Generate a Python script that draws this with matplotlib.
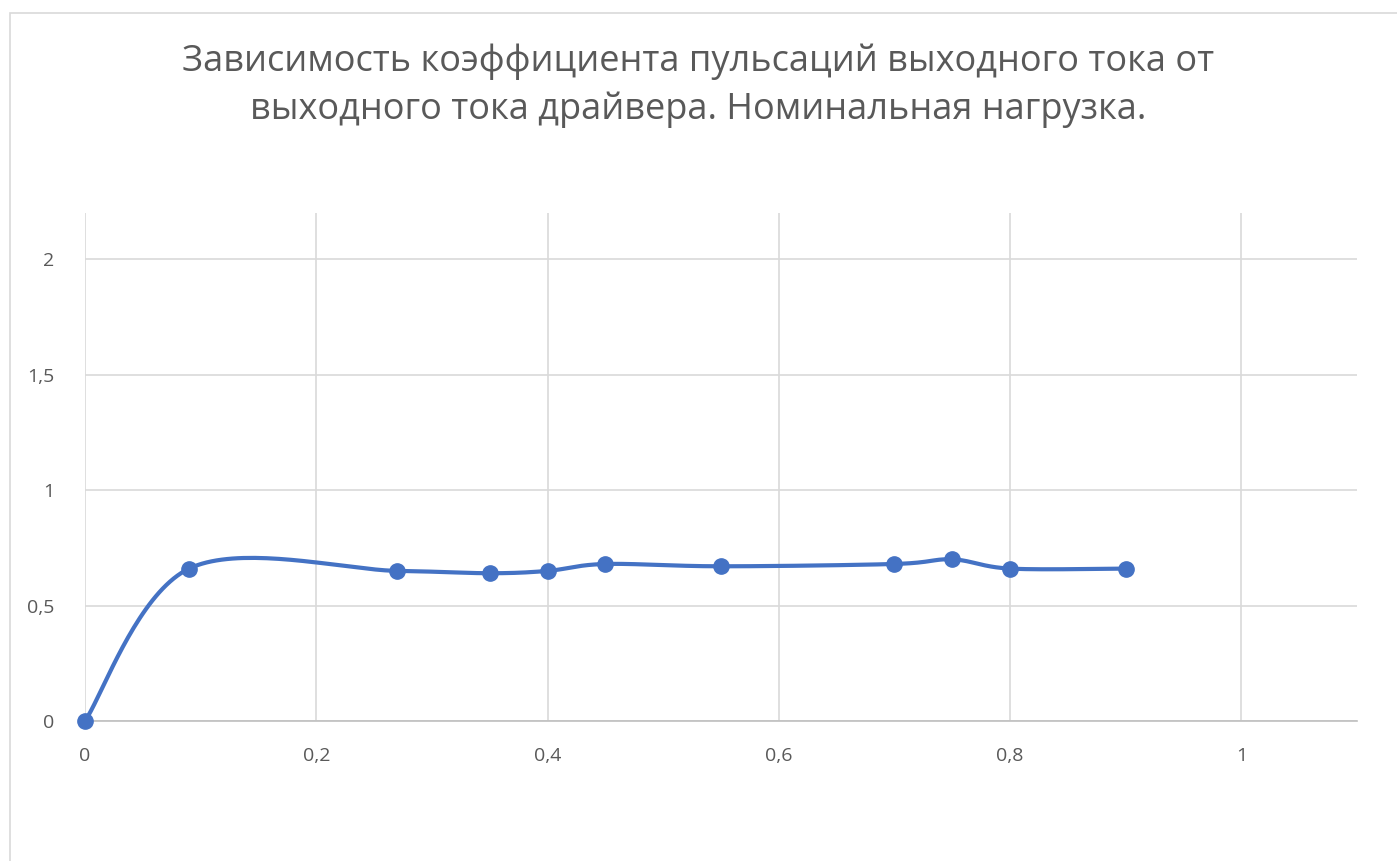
import numpy as np
import matplotlib.pyplot as plt
from matplotlib.patches import Rectangle

# output current of the driver, A
current = [0, 0.09, 0.27, 0.35, 0.40, 0.45, 0.55, 0.70, 0.75, 0.80, 0.90]
# ripple factor
ripple = [0, 0.66, 0.65, 0.64, 0.65, 0.68, 0.67, 0.68, 0.70, 0.66, 0.66]

title = "Зависимость коэффициента пульсаций выходного тока от\nвыходного тока драйвера. Номинальная нагрузка."
xticks = [0, 0.2, 0.4, 0.6, 0.8, 1.0]
yticks = [0, 0.5, 1.0, 1.5, 2.0]


def smooth(xs, ys, n=40):
    """Excel-like smoothed line: cubic Bezier with Catmull-Rom control points."""
    p = np.column_stack([xs, ys]).astype(float)
    out = []
    for i in range(len(p) - 1):
        p0 = p[i - 1] if i > 0 else p[i]
        p1, p2 = p[i], p[i + 1]
        p3 = p[i + 2] if i + 2 < len(p) else p[i + 1]
        c1 = p1 + (p2 - p0) / 6
        c2 = p2 - (p3 - p1) / 6
        t = np.linspace(0, 1, n)[:, None]
        seg = ((1 - t) ** 3 * p1 + 3 * (1 - t) ** 2 * t * c1
               + 3 * (1 - t) * t ** 2 * c2 + t ** 3 * p2)
        out.append(seg if i == 0 else seg[1:])
    s = np.vstack(out)
    return s[:, 0], s[:, 1]


plt.rcParams['font.family'] = ['Open Sans', 'DejaVu Sans']

fig = plt.figure(figsize=(13.97, 8.61), dpi=100)
fig.patches.append(Rectangle((10 / 1397, -0.1), 1.2, 1 - 13 / 861 + 0.1,
                             transform=fig.transFigure, fill=False,
                             edgecolor='#d9d9d9', linewidth=1.2))

ax = fig.add_axes([85 / 1397, 1 - 721 / 861, (1357 - 85) / 1397, (721 - 213) / 861])

sx, sy = smooth(current, ripple)
ax.plot(sx, sy, color='#4472c4', linewidth=3, solid_capstyle='round', zorder=3)
ax.plot(current, ripple, 'o', color='#4472c4', markersize=11, zorder=4, clip_on=False)

ax.set_xlim(0, 1.1)
ax.set_ylim(0, 2.2)
ax.set_xticks(xticks)
ax.set_yticks(yticks)
ax.set_xticklabels([f"{v:g}".replace('.', ',') for v in xticks])
ax.set_yticklabels([f"{v:g}".replace('.', ',') for v in yticks])
ax.grid(True, color='#d9d9d9', linewidth=1.2)
ax.set_axisbelow(True)
for side in ['top', 'right', 'left']:
    ax.spines[side].set_visible(False)
ax.spines['bottom'].set_color('#bfbfbf')
ax.spines['bottom'].set_linewidth(1.2)
ax.tick_params(length=0, labelsize=14, labelcolor='#595959', pad=19)
ax.tick_params(axis='y', pad=22)

fig.text(0.5, 1 - 86 / 861, title, ha='center', va='center', fontsize=26,
         color='#595959', linespacing=1.42)

fig.savefig("out.png", dpi=100)
